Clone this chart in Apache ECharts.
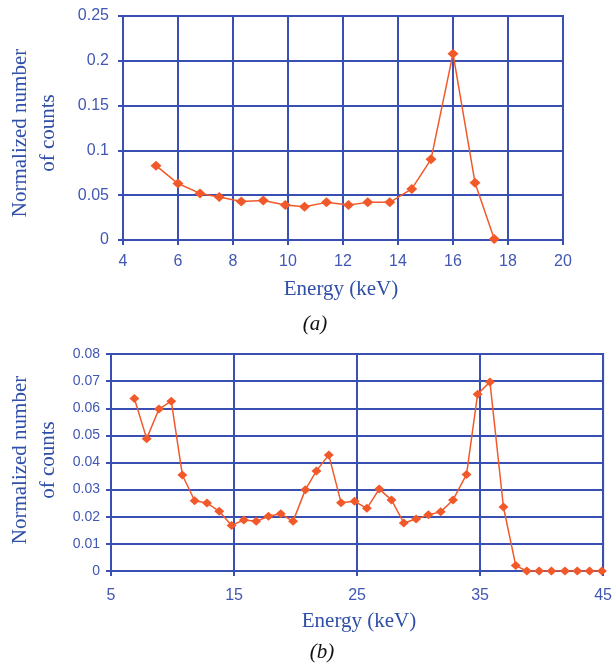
<!DOCTYPE html>
<html>
<head>
<meta charset="utf-8">
<title>Energy spectra</title>
<script src="https://cdn.jsdelivr.net/npm/echarts@6/dist/echarts.min.js"></script>
<style>
  html, body { margin: 0; padding: 0; background: #ffffff; }
  #chart { width: 615px; height: 665px; }
</style>
</head>
<body>
<div id="chart"></div>
<script>
// Spectrum (a): energy in keV and normalized counts
var energyA = [5.2, 6.0, 6.8, 7.5, 8.3, 9.1, 9.9, 10.6, 11.4, 12.2, 12.9, 13.7, 14.5, 15.2, 16.0, 16.8, 17.5];
var countsA = [0.083, 0.063, 0.052, 0.048, 0.043, 0.044, 0.039, 0.037, 0.042, 0.039, 0.042, 0.042, 0.057, 0.090, 0.208, 0.064, 0.001];

// Spectrum (b)
var energyB = [6.9, 7.9, 8.9, 9.9, 10.8, 11.8, 12.8, 13.8, 14.8, 15.8, 16.8, 17.8, 18.8, 19.8, 20.8,
               21.7, 22.7, 23.7, 24.8, 25.8, 26.8, 27.8, 28.8, 29.8, 30.8, 31.8, 32.8, 33.9, 34.8, 35.8,
               36.9, 37.9, 38.8, 39.8, 40.8, 41.9, 42.9, 43.9, 44.9];
var countsB = [0.0636, 0.0488, 0.0597, 0.0626, 0.0354, 0.0259, 0.0251, 0.0220, 0.0168, 0.0188, 0.0183, 0.0202, 0.0211, 0.0183, 0.0300,
               0.0369, 0.0428, 0.0252, 0.0257, 0.0231, 0.0302, 0.0262, 0.0177, 0.0192, 0.0207, 0.0218, 0.0262, 0.0356, 0.0652, 0.0697,
               0.0236, 0.0020, 0, 0, 0, 0, 0, 0, 0];

// Axis ranges and tick steps
var xRangeA = [4, 20, 2];
var yRangeA = [0, 0.25, 0.05];
var xRangeB = [5, 45, 10];
var yRangeB = [0, 0.08, 0.01];

var yTitle = 'Normalized number\nof counts';
var xTitle = 'Energy (keV)';

var GRID_BLUE = '#3a4fb3';
var LABEL_BLUE = '#4257b3';
var TITLE_BLUE = '#2f4fa8';
var LINE_RED = '#f2592a';
var SERIF = '"Liberation Serif", "DejaVu Serif", serif';
var SANS = '"Liberation Sans", Arial, sans-serif';

function pairs(xs, ys) {
  return xs.map(function (x, i) { return [x, ys[i]]; });
}

function valueAxis(range, gridIndex, opts) {
  return Object.assign({
    type: 'value',
    gridIndex: gridIndex,
    min: range[0],
    max: range[1],
    interval: range[2],
    axisLine: { show: true, onZero: false, lineStyle: { color: GRID_BLUE, width: 2 } },
    axisTick: { show: true, length: 5, lineStyle: { color: GRID_BLUE, width: 2 } },
    splitLine: { show: true, lineStyle: { color: GRID_BLUE, width: 2 } },
    axisLabel: { color: LABEL_BLUE, fontFamily: SANS, fontSize: 16 }
  }, opts || {});
}

var chart = echarts.init(document.getElementById('chart'), null, { renderer: 'canvas' });

chart.setOption({
  animation: false,
  backgroundColor: '#ffffff',
  grid: [
    { left: 123, top: 16, width: 440, height: 224, show: true, borderColor: GRID_BLUE, borderWidth: 2, backgroundColor: 'transparent' },
    { left: 111, top: 354, width: 495, height: 217, show: true, borderColor: GRID_BLUE, borderWidth: 2, backgroundColor: 'transparent' }
  ],
  xAxis: [
    valueAxis(xRangeA, 0, { axisLabel: { color: LABEL_BLUE, fontFamily: SANS, fontSize: 16, margin: 14 } }),
    valueAxis(xRangeB, 1, { axisLabel: { color: LABEL_BLUE, fontFamily: SANS, fontSize: 16, margin: 17 } })
  ],
  yAxis: [
    valueAxis(yRangeA, 0, { axisLabel: { color: LABEL_BLUE, fontFamily: SANS, fontSize: 16, margin: 14,
      formatter: function (v) { return String(+v.toFixed(2)); } } }),
    valueAxis(yRangeB, 1, { axisLabel: { color: LABEL_BLUE, fontFamily: SANS, fontSize: 14, margin: 11,
      formatter: function (v) { return v === 0 ? '0' : v.toFixed(2); } } })
  ],
  series: [
    {
      type: 'line', xAxisIndex: 0, yAxisIndex: 0,
      data: pairs(energyA, countsA),
      symbol: 'diamond', symbolSize: [11, 10],
      lineStyle: { color: LINE_RED, width: 1.5 },
      itemStyle: { color: LINE_RED },
      z: 5
    },
    {
      type: 'line', xAxisIndex: 1, yAxisIndex: 1,
      data: pairs(energyB, countsB),
      symbol: 'diamond', symbolSize: [10, 9],
      lineStyle: { color: LINE_RED, width: 1.5 },
      itemStyle: { color: LINE_RED },
      z: 5
    }
  ],
  graphic: [
    { type: 'text', x: 34, y: 133, rotation: Math.PI / 2,
      style: { text: yTitle, fill: TITLE_BLUE, font: '21px ' + SERIF, align: 'center', verticalAlign: 'middle', lineHeight: 28 } },
    { type: 'text', x: 34, y: 460, rotation: Math.PI / 2,
      style: { text: yTitle, fill: TITLE_BLUE, font: '21px ' + SERIF, align: 'center', verticalAlign: 'middle', lineHeight: 28 } },
    { type: 'text', x: 341, y: 289,
      style: { text: xTitle, fill: TITLE_BLUE, font: '21px ' + SERIF, align: 'center', verticalAlign: 'middle' } },
    { type: 'text', x: 359, y: 621,
      style: { text: xTitle, fill: TITLE_BLUE, font: '21px ' + SERIF, align: 'center', verticalAlign: 'middle' } },
    { type: 'text', x: 315, y: 324,
      style: { text: '(a)', fill: '#111111', font: 'italic 21px ' + SERIF, align: 'center', verticalAlign: 'middle' } },
    { type: 'text', x: 322, y: 652,
      style: { text: '(b)', fill: '#111111', font: 'italic 21px ' + SERIF, align: 'center', verticalAlign: 'middle' } }
  ]
});
</script>
</body>
</html>
